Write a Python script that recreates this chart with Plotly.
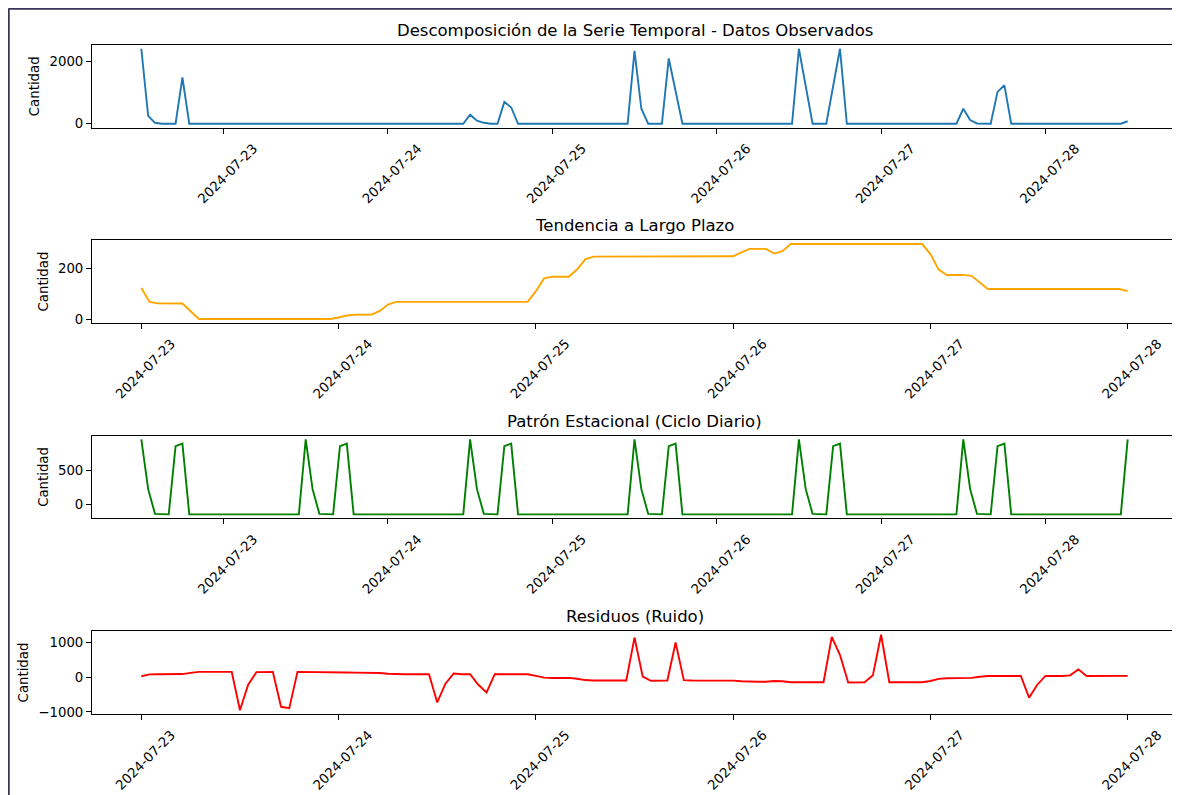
import pandas as pd
import plotly.graph_objects as go

# datos horarios: 2024-07-22 12:00 -> 2024-07-28 12:00
fechas = pd.date_range('2024-07-22 12:00', periods=145, freq='h')
fechas_tend = fechas[12:133]  # tendencia y residuos: 2024-07-23 00:00 -> 2024-07-28 00:00

observado = [
    2400, 250, 30, 0, 0, 0, 1480, 0, 0, 0, 0, 0, 0, 0, 0, 0, 0, 0, 0, 0, 0, 0, 0, 0,
    0, 0, 0, 0, 0, 0, 0, 0, 0, 0, 0, 0, 0, 0, 0, 0, 0, 0, 0, 0, 0, 0, 0, 0,
    290, 100, 30, 0, 0, 700, 520, 0, 0, 0, 0, 0, 0, 0, 0, 0, 0, 0, 0, 0, 0, 0, 0, 0,
    2330, 480, 0, 0, 0, 2090, 1050, 0, 0, 0, 0, 0, 0, 0, 0, 0, 0, 0, 0, 0, 0, 0, 0, 0,
    2400, 1150, 0, 0, 0, 1200, 2400, 0, 0, 0, 0, 0, 0, 0, 0, 0, 0, 0, 0, 0, 0, 0, 0, 0,
    480, 120, 10, 0, 0, 1020, 1230, 0, 0, 0, 0, 0, 0, 0, 0, 0, 0, 0, 0, 0, 0, 0, 0, 0,
    80,
]

tendencia = [
    123.3, 68.1, 62.3, 61.7, 61.7, 61.7, 30.8, 0, 0, 0, 0, 0, 0, 0, 0, 0, 0, 0, 0, 0, 0, 0, 0, 0,
    6.0, 14.2, 16.9, 17.5, 17.5, 32.1, 57.5, 68.3, 68.3, 68.3, 68.3, 68.3, 68.3, 68.3, 68.3, 68.3,
    68.3, 68.3, 68.3, 68.3, 68.3, 68.3, 68.3, 68.3,
    110.8, 161.3, 168.5, 167.9, 167.9, 196.9, 236.9, 247.9, 247.9, 247.9, 247.9, 247.9, 247.9,
    247.9, 247.9, 247.9, 247.9, 247.9, 247.9, 247.9, 247.9, 247.9, 247.9, 247.9,
    249.4, 264.8, 278.8, 278.8, 278.8, 260.2, 269.8, 297.9, 297.9, 297.9, 297.9, 297.9, 297.9,
    297.9, 297.9, 297.9, 297.9, 297.9, 297.9, 297.9, 297.9, 297.9, 297.9, 297.9,
    257.9, 196.5, 175.2, 175.4, 175.4, 171.7, 143.5, 119.2, 119.2, 119.2, 119.2, 119.2, 119.2,
    119.2, 119.2, 119.2, 119.2, 119.2, 119.2, 119.2, 119.2, 119.2, 119.2, 119.2,
    110.8,
]

estacional = [
    952.1, 222.1, -139.9, -147.9, -147.9, 854.1, 892.1, -147.9, -147.9, -147.9, -147.9, -147.9,
    -144.2, -142.2, -141.5, -141.5, -141.5, -145.7, -148.9, -147.9, -147.9, -147.9, -147.9, -147.9,
    952.1, 222.1, -139.9, -147.9, -147.9, 854.1, 892.1, -147.9, -147.9, -147.9, -147.9, -147.9,
    -144.2, -142.2, -141.5, -141.5, -141.5, -145.7, -148.9, -147.9, -147.9, -147.9, -147.9, -147.9,
    952.1, 222.1, -139.9, -147.9, -147.9, 854.1, 892.1, -147.9, -147.9, -147.9, -147.9, -147.9,
    -144.2, -142.2, -141.5, -141.5, -141.5, -145.7, -148.9, -147.9, -147.9, -147.9, -147.9, -147.9,
    952.1, 222.1, -139.9, -147.9, -147.9, 854.1, 892.1, -147.9, -147.9, -147.9, -147.9, -147.9,
    -144.2, -142.2, -141.5, -141.5, -141.5, -145.7, -148.9, -147.9, -147.9, -147.9, -147.9, -147.9,
    952.1, 222.1, -139.9, -147.9, -147.9, 854.1, 892.1, -147.9, -147.9, -147.9, -147.9, -147.9,
    -144.2, -142.2, -141.5, -141.5, -141.5, -145.7, -148.9, -147.9, -147.9, -147.9, -147.9, -147.9,
    952.1, 222.1, -139.9, -147.9, -147.9, 854.1, 892.1, -147.9, -147.9, -147.9, -147.9, -147.9,
    -144.2, -142.2, -141.5, -141.5, -141.5, -145.7, -148.9, -147.9, -147.9, -147.9, -147.9, -147.9,
    952.1,
]

residuos = [
    20.9, 74.1, 79.2, 79.8, 79.8, 84.0, 118.1, 147.9, 147.9, 147.9, 147.9, 147.9,
    -952.1, -222.1, 139.9, 147.9, 147.9, -854.1, -892.1, 147.9, 147.9, 147.9, 147.9, 147.9,
    138.2, 128.0, 124.6, 124.0, 124.0, 113.6, 91.4, 79.6, 79.6, 79.6, 79.6, 79.6,
    -730.4, -190.4, 101.6, 79.6, 79.6, -222.4, -440.4, 79.6, 79.6, 79.6, 79.6, 79.6,
    33.4, -19.1, -27.0, -26.4, -26.4, -51.2, -88.0, -100.0, -100.0, -100.0, -100.0, -100.0,
    1130.0, 10.0, -108.0, -100.0, -100.0, 988.0, -90.0, -100.0, -100.0, -100.0, -100.0, -100.0,
    -105.2, -122.6, -137.3, -137.3, -137.3, -114.5, -120.9, -150.0, -150.0, -150.0, -150.0, -150.0,
    1150.0, 630.0, -158.0, -150.0, -150.0, 48.0, 1210.0, -150.0, -150.0, -150.0, -150.0, -150.0,
    -113.7, -54.3, -33.7, -33.9, -33.9, -26.0, 5.4, 28.7, 28.7, 28.7, 28.7, 28.7,
    -591.3, -221.3, 30.7, 28.7, 28.7, 46.7, 218.7, 28.7, 28.7, 28.7, 28.7, 28.7,
    33.4,
]

titulos = ['Descomposición de la Serie Temporal - Datos Observados',
           'Tendencia a Largo Plazo',
           'Patrón Estacional (Ciclo Diario)',
           'Residuos (Ruido)']
colores = ['#1f77b4', '#FFA500', '#008000', '#FF0000']
yticks = [[0, 2000], [0, 200], [0, 500], [-1000, 0, 1000]]
dias = pd.date_range('2024-07-23', '2024-07-28', freq='D')

# layout en pixeles (la pagina deja 8 px de margen arriba y a la izquierda)
W, H = 1172, 787
ml, mr, mt, mb = 84, 3, 37, 81
pw, ph = W - ml - mr, H - mt - mb
paneles = [(37, 119.5), (232.3, 314.8), (427.7, 510.2), (623, 706)]


def dom(top, bottom):
    return [(H - mb - bottom) / ph, (H - mb - top) / ph]


series = [(fechas, observado), (fechas_tend, tendencia), (fechas, estacional), (fechas_tend, residuos)]

fig = go.Figure()
layout = dict(width=W, height=H, margin=dict(l=ml, r=mr, t=mt, b=mb),
              plot_bgcolor='white', paper_bgcolor='white', showlegend=False,
              font=dict(family='DejaVu Sans', size=13, color='black'))
anots = []
font = dict(family='DejaVu Sans', size=13.3, color='black')

for i, ((xs, ys), tit, col, yt, (top, bot)) in enumerate(zip(series, titulos, colores, yticks, paneles)):
    n = '' if i == 0 else str(i + 1)
    fig.add_trace(go.Scatter(x=xs, y=ys, mode='lines', line=dict(color=col, width=1.9),
                             xaxis='x' + n, yaxis='y' + n))
    span = xs[-1] - xs[0]
    ymin, ymax = min(ys), max(ys)
    yspan = ymax - ymin
    layout['xaxis' + n] = dict(
        domain=[0, 1], anchor='y' + n,
        range=[xs[0] - span * 0.05, xs[-1] + span * 0.05],
        tickvals=list(dias), ticktext=[d.strftime('%Y-%m-%d') for d in dias],
        tickangle=-45, ticks='outside', ticklen=5, tickwidth=1, tickcolor='black',
        ticklabelshift=30, ticklabelstandoff=2,
        showline=True, mirror=True, linecolor='black', linewidth=1,
        showgrid=False, zeroline=False, tickfont=font)
    layout['yaxis' + n] = dict(
        domain=dom(top, bot), anchor='x' + n,
        range=[ymin - yspan * 0.05, ymax + yspan * 0.05],
        tickvals=yt, ticks='outside', ticklen=5, tickwidth=1, tickcolor='black',
        showline=True, mirror=True, linecolor='black', linewidth=1,
        showgrid=False, zeroline=False, tickfont=font,
        title=dict(text='Cantidad', font=font, standoff=6))
    anots.append(dict(text=tit, x=0.5, xref='paper', y=dom(top, bot)[1], yref='paper',
                      xanchor='center', yanchor='bottom', yshift=3, showarrow=False,
                      font=dict(family='DejaVu Sans', size=16.5, color='black')))

layout['annotations'] = anots

# marco de la captura, pegado al borde izquierdo y superior de la figura
bx = (0.5 - ml) / pw
by = (H - mb - 0.5) / ph
layout['shapes'] = [
    dict(type='line', xref='paper', yref='paper', x0=bx, x1=bx, y0=-0.2, y1=by,
         line=dict(color='#3b3358', width=2.5)),
    dict(type='line', xref='paper', yref='paper', x0=bx, x1=1.1, y0=by, y1=by,
         line=dict(color='#3b3358', width=2.5)),
]

fig.update_layout(**layout)
fig.write_html('out.html')
